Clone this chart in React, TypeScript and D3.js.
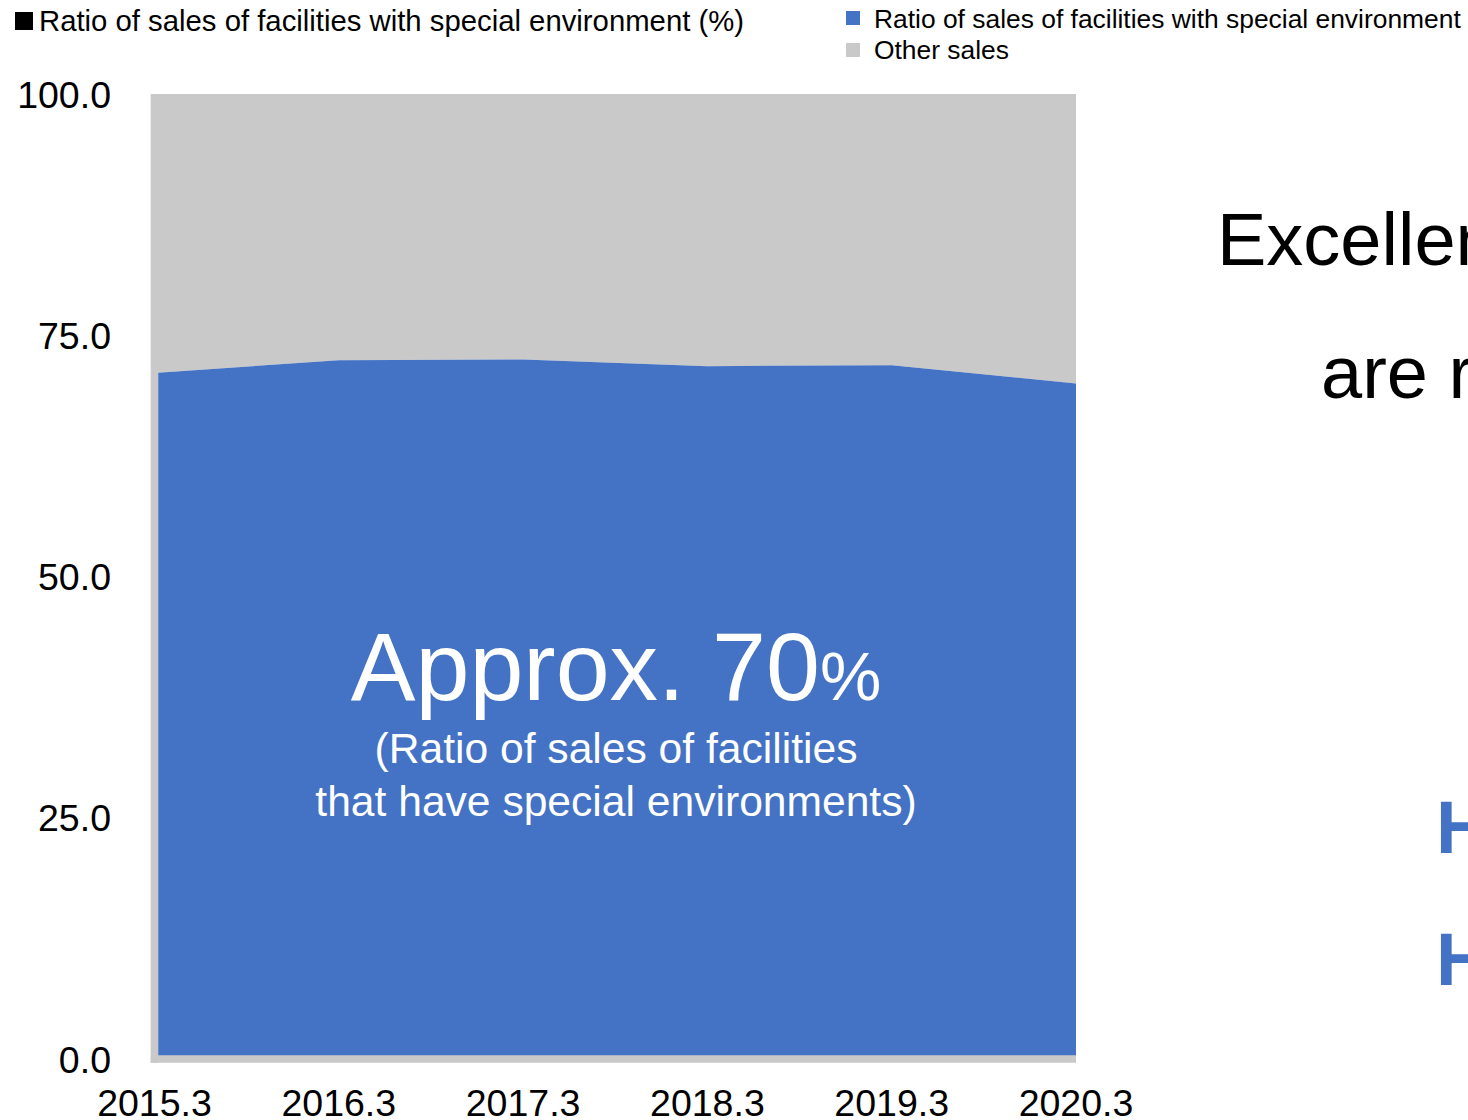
import React from "react";
import * as d3 from "d3";

const categories = ["2015.3", "2016.3", "2017.3", "2018.3", "2019.3", "2020.3"];
const specialRatio = [71.1, 72.4, 72.5, 71.8, 71.9, 70.0];
const otherSales = [28.9, 27.6, 27.5, 28.2, 28.1, 30.0];
const yTicks = [0, 25, 50, 75, 100];
const seriesKeys = ["special", "other"];
const seriesColors: Record<string, string> = { special: "#4472C4", other: "#C9C9C9" };

const W = 1468;
const H = 1120;
const FONT = "'Liberation Sans', Arial, sans-serif";

export default function App() {
  const x = d3.scalePoint<string>().domain(categories).range([154.5, 1076]);
  const y = d3.scaleLinear().domain([0, 100]).range([1059, 94]);

  const rows = categories.map((c, i) => ({ cat: c, special: specialRatio[i], other: otherSales[i] }));
  const stacked = d3.stack<any>().keys(seriesKeys)(rows);
  const area = d3
    .area<any>()
    .x((d) => x(d.data.cat) as number)
    .y0((d) => y(d[0]))
    .y1((d) => y(d[1]));

  const layers = [...stacked].reverse();

  return (
    <svg
      width={W}
      height={H}
      style={{ position: "absolute", left: 0, top: 0, background: "#fff" }}
      fontFamily={FONT}
    >
      <rect x={0} y={0} width={W} height={H} fill="#fff" />
      {layers.map((s) => (
        <path key={s.key} d={area(s as any) || ""} fill={seriesColors[s.key]} />
      ))}
      {/* thick axis lines */}
      <line x1={154.5} x2={154.5} y1={94} y2={1062.8} stroke="#C9C9C9" strokeWidth={7.6} />
      <line x1={150.7} x2={1076} y1={1059} y2={1059} stroke="#C9C9C9" strokeWidth={7.6} />

      {/* y tick labels */}
      {yTicks.map((t) => (
        <text key={t} x={111} y={y(t) + 13.5} textAnchor="end" fontSize={37.5} fill="#000">
          {t.toFixed(1)}
        </text>
      ))}
      {/* x tick labels */}
      {categories.map((c) => (
        <text key={c} x={x(c) as number} y={1116} textAnchor="middle" fontSize={37.5} fill="#000">
          {c}
        </text>
      ))}

      {/* title */}
      <rect x={15} y={12} width={18} height={18} fill="#000" />
      <text x={39} y={31} fontSize={29.3} fill="#000">
        Ratio of sales of facilities with special environment (%)
      </text>

      {/* legend */}
      <rect x={846} y={11} width={14} height={14} fill={seriesColors.special} />
      <text x={874} y={28} fontSize={26.4} fill="#000">
        Ratio of sales of facilities with special environment
      </text>
      <rect x={846} y={43} width={14} height={14} fill={seriesColors.other} />
      <text x={874} y={59} fontSize={26.4} fill="#000">
        Other sales
      </text>

      {/* annotation */}
      <text x={616} y={700} textAnchor="middle" fill="#fff">
        <tspan fontSize={97}>Approx. 70</tspan>
        <tspan fontSize={69}>%</tspan>
      </text>
      <text x={616} y={763} textAnchor="middle" fontSize={42.6} fill="#fff">
        (Ratio of sales of facilities
      </text>
      <text x={616} y={816} textAnchor="middle" fontSize={42.6} fill="#fff">
        that have special environments)
      </text>

      {/* right side text (cut off) */}
      <text x={1217} y={265} fontSize={74} fill="#000">
        Excellent
      </text>
      <text x={1321} y={398} fontSize={74} fill="#000">
        are r
      </text>
      <text x={1436} y={853} fontSize={74} fontWeight="bold" fill="#4472C4">
        H
      </text>
      <text x={1436} y={985} fontSize={74} fontWeight="bold" fill="#4472C4">
        H
      </text>
    </svg>
  );
}
